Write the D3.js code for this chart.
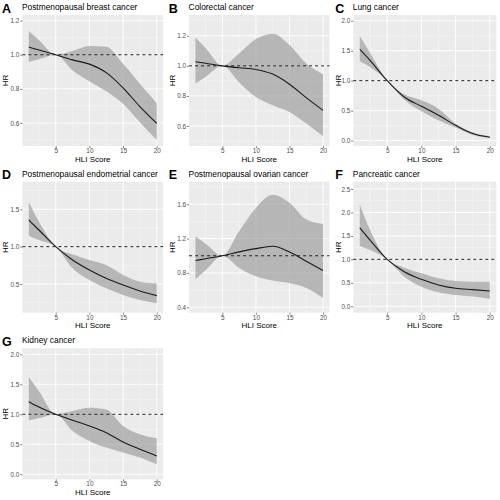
<!DOCTYPE html>
<html><head><meta charset="utf-8">
<script src="https://cdn.jsdelivr.net/npm/d3@7"></script>
<style>body{margin:0;background:#fff}svg{display:block}text{font-family:"Liberation Sans",Arial,sans-serif}</style>
</head><body><svg id="c" width="500" height="500"></svg>
<script>
// HLI score grid
const xGrid = [1, 2.5, 5, 7.5, 10, 12.5, 15, 17.5, 20];
const xTicks = [5, 10, 15, 20];

// A Postmenopausal breast cancer
const hrA = [1.045, 1.028, 1.0, 0.970, 0.945, 0.895, 0.806, 0.696, 0.598];
const loA = [0.957, 0.973, 1.0, 0.908, 0.845, 0.786, 0.712, 0.604, 0.500];
const upA = [1.139, 1.087, 1.0, 1.022, 1.051, 1.047, 0.947, 0.830, 0.716];
// B Colorectal cancer
const hrB = [1.027, 1.017, 1.0, 0.987, 0.976, 0.945, 0.878, 0.789, 0.704];
const loB = [0.882, 0.926, 1.0, 0.890, 0.793, 0.738, 0.693, 0.616, 0.531];
const upB = [1.189, 1.118, 1.0, 1.082, 1.178, 1.214, 1.138, 1.016, 0.944];
// C Lung cancer
const hrC = [1.522, 1.339, 1.0, 0.728, 0.572, 0.422, 0.256, 0.117, 0.056];
const loC = [1.322, 1.228, 1.0, 0.683, 0.489, 0.339, 0.217, 0.094, 0.044];
const upC = [1.744, 1.461, 1.0, 0.772, 0.672, 0.533, 0.283, 0.139, 0.072];
// D Postmenopausal endometrial cancer
const hrD = [1.357, 1.223, 1.0, 0.821, 0.688, 0.576, 0.487, 0.406, 0.344];
const loD = [1.147, 1.089, 1.0, 0.710, 0.554, 0.442, 0.353, 0.286, 0.241];
const upD = [1.594, 1.335, 1.0, 0.897, 0.821, 0.754, 0.621, 0.531, 0.509];
// E Postmenopausal ovarian cancer
const hrE = [0.944, 0.965, 1.0, 1.045, 1.083, 1.110, 1.045, 0.936, 0.827];
const loE = [0.722, 0.830, 1.0, 0.858, 0.761, 0.711, 0.683, 0.625, 0.509];
const upE = [1.227, 1.140, 1.0, 1.285, 1.557, 1.710, 1.616, 1.421, 1.371];
// F Pancreatic cancer
const hrF = [1.674, 1.411, 1.0, 0.738, 0.574, 0.454, 0.383, 0.355, 0.326];
const loF = [1.284, 1.199, 1.0, 0.631, 0.418, 0.298, 0.241, 0.206, 0.156];
const upF = [2.170, 1.624, 1.0, 0.823, 0.702, 0.596, 0.539, 0.525, 0.525];
// G Kidney cancer
const hrG = [1.211, 1.122, 1.0, 0.900, 0.806, 0.694, 0.539, 0.417, 0.306];
const loG = [0.900, 0.933, 1.0, 0.722, 0.556, 0.444, 0.361, 0.278, 0.167];
const upG = [1.622, 1.389, 1.0, 1.056, 1.111, 1.080, 0.806, 0.667, 0.600];

const letters = ["A", "B", "C", "D", "E", "F", "G"];
const titles = ["Postmenopausal breast cancer", "Colorectal cancer", "Lung cancer",
  "Postmenopausal endometrial cancer", "Postmenopausal ovarian cancer", "Pancreatic cancer", "Kidney cancer"];
const hrs = [hrA, hrB, hrC, hrD, hrE, hrF, hrG];
const los = [loA, loB, loC, loD, loE, loF, loG];
const ups = [upA, upB, upC, upD, upE, upF, upG];
const yTicks = [[0.6, 0.8, 1.0, 1.2], [0.6, 0.8, 1.0, 1.2], [0, 0.5, 1, 1.5, 2],
  [0.5, 1.0, 1.5], [0.4, 0.8, 1.2, 1.6], [0, 0.5, 1, 1.5, 2, 2.5], [0, 0.5, 1, 1.5, 2]];
const yDomains = [[0.465, 1.233], [0.467, 1.338], [-0.09, 2.095],
  [0.116, 1.87], [0.337, 1.863], [-0.136, 2.656], [-0.085, 2.1]];

// layout
const cellH = 500 / 3;
const colX = [[22.4, 163.1], [189.1, 329.4], [353.3, 496.3]];
const pTop = 15, pBot = 146;

const svg = d3.select("#c");
const fmt = d3.format(".1f");

letters.forEach((L, i) => {
  const col = i % 3, row = Math.floor(i / 3);
  const oy = row * cellH;
  const [x0, x1] = colX[col];
  const y0 = oy + pTop, y1 = oy + pBot;
  const x = d3.scaleLinear().domain([0.05, 20.95]).range([x0, x1]);
  const y = d3.scaleLinear().domain(yDomains[i]).range([y1, y0]);
  const g = svg.append("g");

  // panel bg
  g.append("rect").attr("x", x0).attr("y", y0).attr("width", x1 - x0).attr("height", y1 - y0).attr("fill", "#ebebeb");
  // minor grid
  const yt = yTicks[i];
  const step = yt[1] - yt[0];
  const yMinor = [];
  for (let v = yt[0] - step / 2; v <= yDomains[i][1]; v += step) if (v >= yDomains[i][0]) yMinor.push(v);
  const xMinor = [2.5, 7.5, 12.5, 17.5];
  g.selectAll(null).data(xMinor).join("line").attr("x1", d => x(d)).attr("x2", d => x(d)).attr("y1", y0).attr("y2", y1)
    .attr("stroke", "#fff").attr("stroke-width", 0.45).attr("opacity", 0.85);
  g.selectAll(null).data(yMinor).join("line").attr("y1", d => y(d)).attr("y2", d => y(d)).attr("x1", x0).attr("x2", x1)
    .attr("stroke", "#fff").attr("stroke-width", 0.45).attr("opacity", 0.85);
  // major grid
  g.selectAll(null).data(xTicks).join("line").attr("x1", d => x(d)).attr("x2", d => x(d)).attr("y1", y0).attr("y2", y1)
    .attr("stroke", "#fff").attr("stroke-width", 0.9);
  g.selectAll(null).data(yt).join("line").attr("y1", d => y(d)).attr("y2", d => y(d)).attr("x1", x0).attr("x2", x1)
    .attr("stroke", "#fff").attr("stroke-width", 0.9);

  const pts = xGrid.map((xv, k) => ({x: xv, hr: hrs[i][k], lo: los[i][k], up: ups[i][k]}));
  // ribbon
  g.append("path").datum(pts)
    .attr("d", d3.area().x(d => x(d.x)).y0(d => y(d.lo)).y1(d => y(d.up)).curve(d3.curveMonotoneX))
    .attr("fill", "#999").attr("fill-opacity", 0.65);
  // reference line
  g.append("line").attr("x1", x0).attr("x2", x1).attr("y1", y(1)).attr("y2", y(1))
    .attr("stroke", "#222").attr("stroke-width", 1).attr("stroke-dasharray", "3,3");
  // HR line
  g.append("path").datum(pts)
    .attr("d", d3.line().x(d => x(d.x)).y(d => y(d.hr)).curve(d3.curveMonotoneX))
    .attr("fill", "none").attr("stroke", "#1a1a1a").attr("stroke-width", 1.1);

  // axes
  const ax = d3.axisBottom(x).tickValues(xTicks).tickSize(2).tickPadding(0.6).tickFormat(d3.format("d"));
  const xa = g.append("g").attr("transform", `translate(0,${y1})`).call(ax);
  const ay = d3.axisLeft(y).tickValues(yt).tickSize(2.2).tickPadding(0.8).tickFormat(fmt);
  const ya = g.append("g").attr("transform", `translate(${x0},0)`).call(ay);
  [xa, ya].forEach(a => {
    a.select(".domain").remove();
    a.selectAll(".tick line").attr("stroke", "#333").attr("stroke-width", 0.6);
    a.selectAll(".tick text").attr("fill", "#4d4d4d").attr("font-size", 6.4);
  });

  // axis titles
  g.append("text").attr("x", (x0 + x1) / 2).attr("y", oy + 161.8).attr("text-anchor", "middle")
    .attr("font-size", 8).attr("fill", "#000").text("HLI Score");
  g.append("text").attr("transform", `translate(${col * 166.67 + 8},${(y0 + y1) / 2}) rotate(-90)`)
    .attr("text-anchor", "middle").attr("font-size", 8).attr("fill", "#000").text("HR");

  // title + letter
  g.append("text").attr("x", col * 166.67 + 2).attr("y", oy + 12.5).attr("font-size", 12.5)
    .attr("font-weight", "bold").attr("fill", "#000").text(L);
  g.append("text").attr("x", x0 - 0.5).attr("y", oy + 10).attr("font-size", 8.4).attr("fill", "#000").text(titles[i]);
});
</script></body></html>
